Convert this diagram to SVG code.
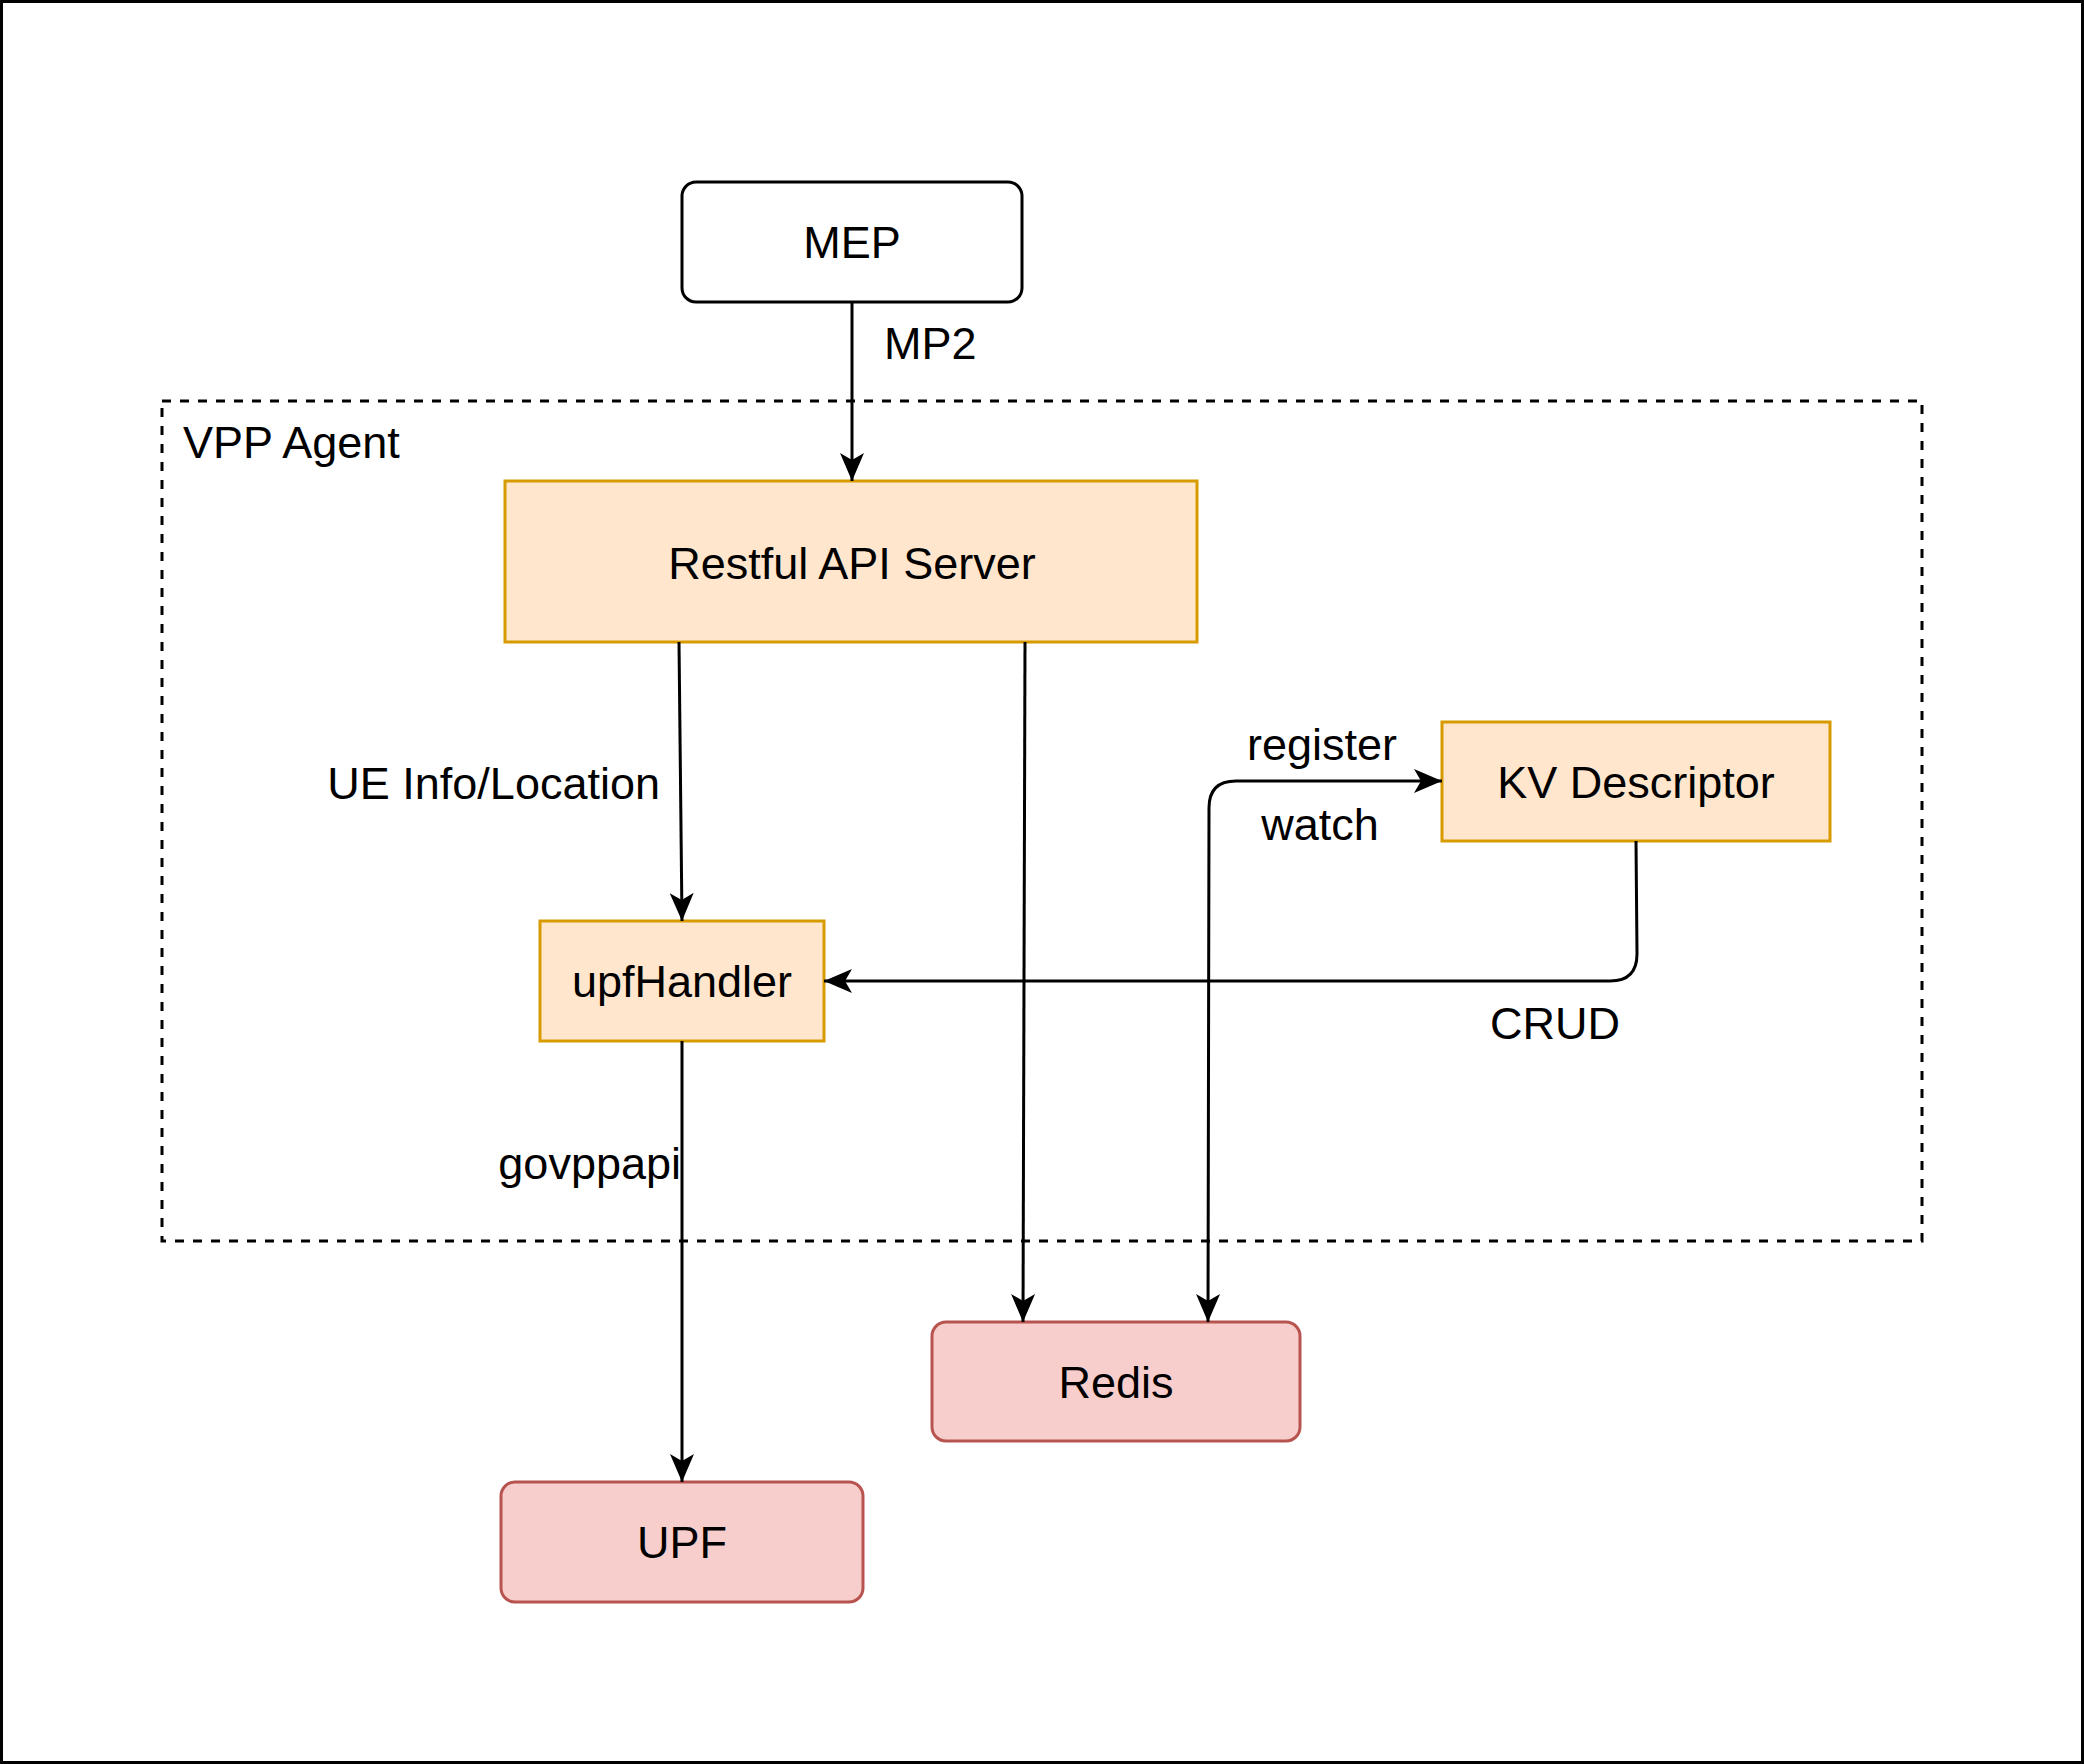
<svg xmlns="http://www.w3.org/2000/svg" width="2084" height="1764" viewBox="0 0 2084 1764">
<style>
text{font-family:"Liberation Sans",Arial,sans-serif;font-size:45px;fill:#000}
.c{text-anchor:middle;dominant-baseline:central}
.o{fill:#ffe6cc;stroke:#d79b00;stroke-width:3}
.r{fill:#f8cecc;stroke:#b85450;stroke-width:3}
.e{fill:none;stroke:#000;stroke-width:3}
</style>
<defs>
<marker id="a" markerUnits="userSpaceOnUse" markerWidth="40" markerHeight="40" viewBox="0 0 40 40" refX="34" refY="20" orient="auto-start-reverse">
<path d="M6,8 L34,20 L6,32 L13,20 Z" fill="#000"/>
</marker>
</defs>
<rect x="1.5" y="1.5" width="2081" height="1761" fill="#fff" stroke="#000" stroke-width="3"/>
<g id="vpp"><rect x="162" y="401" width="1760" height="840" fill="none" stroke="#000" stroke-width="3" stroke-dasharray="9,9"/><text x="183" y="458">VPP Agent</text></g>
<g id="mep"><rect x="682" y="182" width="340" height="120" rx="14" fill="#fff" stroke="#000" stroke-width="3"/><text class="c" x="852" y="242">MEP</text></g>
<g id="api"><rect class="o" x="505" y="481" width="692" height="161"/><text class="c" x="852" y="563">Restful API Server</text></g>
<g id="kv"><rect class="o" x="1442" y="722" width="388" height="119"/><text class="c" x="1636" y="782">KV Descriptor</text></g>
<g id="upfh"><rect class="o" x="540" y="921" width="284" height="120"/><text class="c" x="682" y="981">upfHandler</text></g>
<g id="redis"><rect class="r" x="932" y="1322" width="368" height="119" rx="14"/><text class="c" x="1116" y="1382">Redis</text></g>
<g id="upf"><rect class="r" x="501" y="1482" width="362" height="120" rx="14"/><text class="c" x="682" y="1542">UPF</text></g>
<g id="edges">
<path class="e" d="M852,302 L852,481" marker-end="url(#a)"/>
<path class="e" d="M679,642 L682,921" marker-end="url(#a)"/>
<path class="e" d="M1025,642 L1023,1322" marker-end="url(#a)"/>
<path class="e" d="M1208,1322 L1209,808 Q1209,781 1236,781 L1442,781" marker-start="url(#a)" marker-end="url(#a)"/>
<path class="e" d="M1636,841 L1637,954 Q1637,981 1610,981 L824,981" marker-end="url(#a)"/>
<path class="e" d="M682,1041 L682,1482" marker-end="url(#a)"/>
</g>
<g id="labels">
<text x="884" y="359">MP2</text>
<text x="660" y="799" text-anchor="end">UE Info/Location</text>
<text class="c" x="1322" y="744">register</text>
<text class="c" x="1320" y="824">watch</text>
<text class="c" x="1555" y="1023">CRUD</text>
<text x="681" y="1179" text-anchor="end">govppapi</text>
</g>
</svg>
